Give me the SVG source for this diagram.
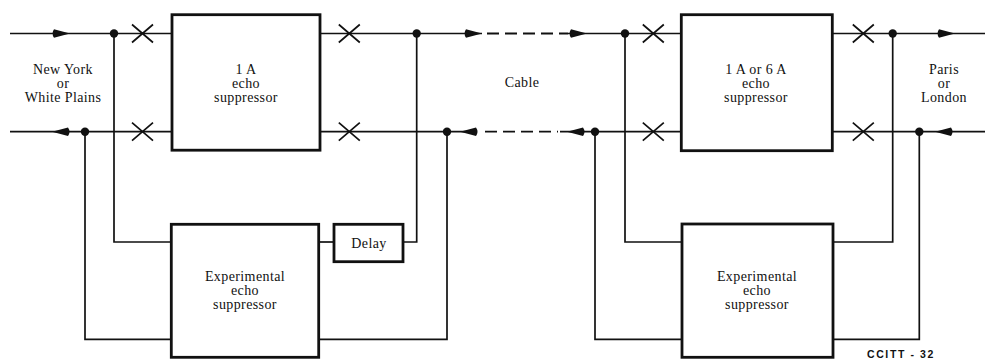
<svg xmlns="http://www.w3.org/2000/svg" width="985" height="359" viewBox="0 0 985 359">
<style>
.ln{stroke:#111;stroke-width:1.7;fill:none}
.dash{stroke:#111;stroke-width:1.8;fill:none;stroke-dasharray:12 6}
.box{stroke:#111;stroke-width:2.8;fill:#fff}
.t{font-family:"Liberation Serif","DejaVu Serif",serif;font-size:14px;letter-spacing:0.4px;fill:#111;text-anchor:middle}
.lab{font-family:"Liberation Sans",Arial,sans-serif;font-size:10.5px;font-weight:bold;fill:#111;letter-spacing:1.6px}
.dot{fill:#111}
.ar{fill:#111}
</style>
<defs>
<path id="arR" d="M0,0 L-16,-4.2 Q-19,0 -16,4.2 Z"/>
<path id="arL" d="M0,0 L16,-4.2 Q19,0 16,4.2 Z"/>
<path id="cross" d="M-10.5,-9 L10.5,9 M-10.5,9 L10.5,-9"/>
<circle id="dt" r="4.2"/>
</defs>

<g id="connectors">
<!-- top line -->
<line class="ln" x1="10" y1="33.5" x2="172" y2="33.5"/>
<line class="ln" x1="320" y1="33.5" x2="482" y2="33.5"/>
<line class="dash" x1="487" y1="33.5" x2="568" y2="33.5"/>
<line class="ln" x1="568" y1="33.5" x2="681" y2="33.5"/>
<line class="ln" x1="833" y1="33.5" x2="985" y2="33.5"/>
<!-- bottom line -->
<line class="ln" x1="10" y1="131.7" x2="172" y2="131.7"/>
<line class="ln" x1="320" y1="131.7" x2="477" y2="131.7"/>
<line class="dash" x1="485" y1="131.7" x2="558" y2="131.7"/>
<line class="ln" x1="560" y1="131.7" x2="681" y2="131.7"/>
<line class="ln" x1="833" y1="131.7" x2="985" y2="131.7"/>
<!-- left side verticals -->
<polyline class="ln" points="114,33.5 114,242 171,242"/>
<polyline class="ln" points="85,131.7 85,339.3 171,339.3"/>
<line class="ln" x1="319" y1="242" x2="334" y2="242"/>
<polyline class="ln" points="403,242 416.7,242 416.7,33.5"/>
<polyline class="ln" points="319,339.3 447,339.3 447,131.7"/>
<!-- right side verticals -->
<polyline class="ln" points="625,33.5 625,242 682,242"/>
<polyline class="ln" points="595,131.7 595,339.3 682,339.3"/>
<polyline class="ln" points="833,242 892.7,242 892.7,33.5"/>
<polyline class="ln" points="833,339.3 919.3,339.3 919.3,131.7"/>
<!-- crosses -->
<g class="ln" stroke-width="2">
<use href="#cross" x="142.5" y="33.5"/>
<use href="#cross" x="142.5" y="131.7"/>
<use href="#cross" x="349.3" y="33.5"/>
<use href="#cross" x="349.3" y="131.7"/>
<use href="#cross" x="653.3" y="33.5"/>
<use href="#cross" x="653.3" y="131.7"/>
<use href="#cross" x="863.3" y="33.5"/>
<use href="#cross" x="863.3" y="131.7"/>
</g>
<!-- dots -->
<g class="dot">
<use href="#dt" x="114" y="33.5"/>
<use href="#dt" x="85" y="131.7"/>
<use href="#dt" x="416.7" y="33.5"/>
<use href="#dt" x="447" y="131.7"/>
<use href="#dt" x="595" y="131.7"/>
<use href="#dt" x="625" y="33.5"/>
<use href="#dt" x="892.7" y="33.5"/>
<use href="#dt" x="919.3" y="131.7"/>
</g>
<!-- arrows -->
<g class="ar">
<use href="#arR" x="70" y="33.5"/>
<use href="#arR" x="482" y="33.5"/>
<use href="#arR" x="587" y="33.5"/>
<use href="#arR" x="955" y="33.5"/>
<use href="#arL" x="52" y="131.7"/>
<use href="#arL" x="460" y="131.7"/>
<use href="#arL" x="567" y="131.7"/>
<use href="#arL" x="935" y="131.7"/>
</g>
</g>

<g id="es1a">
<rect class="box" x="172" y="14.7" width="148" height="135.5"/>
<text class="t" x="246" y="74">1 A</text>
<text class="t" x="246" y="88">echo</text>
<text class="t" x="246" y="102">suppressor</text>
</g>

<g id="es6a">
<rect class="box" x="681.3" y="14.7" width="151" height="136"/>
<text class="t" x="756" y="74">1 A  or  6 A</text>
<text class="t" x="756" y="88">echo</text>
<text class="t" x="756" y="102">suppressor</text>
</g>

<g id="exp1">
<rect class="box" x="171.3" y="224.3" width="147.4" height="133"/>
<text class="t" x="245" y="281">Experimental</text>
<text class="t" x="245" y="295">echo</text>
<text class="t" x="245" y="309">suppressor</text>
</g>

<g id="delay">
<rect class="box" x="334" y="224.3" width="69" height="37.4"/>
<text class="t" x="369" y="247.5">Delay</text>
</g>

<g id="exp2">
<rect class="box" x="682" y="224" width="151" height="133.3"/>
<text class="t" x="757" y="281">Experimental</text>
<text class="t" x="757" y="295">echo</text>
<text class="t" x="757" y="309">suppressor</text>
</g>

<g id="labels">
<text class="t" x="63" y="74">New York</text>
<text class="t" x="63" y="88">or</text>
<text class="t" x="63" y="102">White Plains</text>
<text class="t" x="522" y="87">Cable</text>
<text class="t" x="944" y="74">Paris</text>
<text class="t" x="944" y="88">or</text>
<text class="t" x="944" y="102">London</text>
<text class="lab" x="867" y="358">CCITT - 32</text>
</g>
</svg>
